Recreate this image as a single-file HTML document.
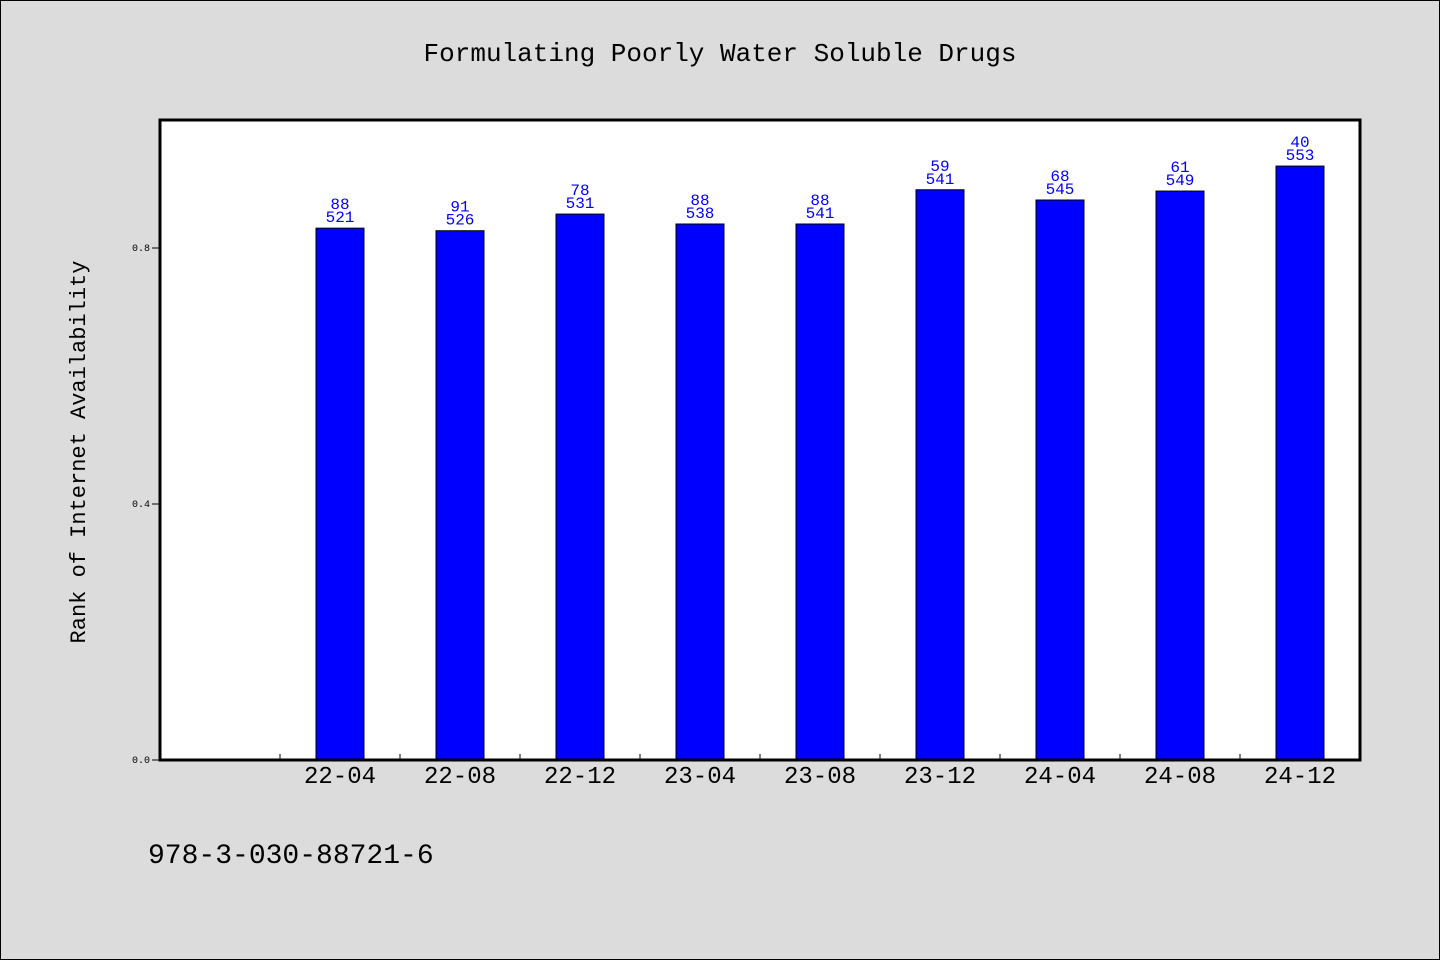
<!DOCTYPE html>
<html><head><meta charset="utf-8"><style>
body{margin:0;background:#dcdcdc;}
svg{display:block;font-family:"WenQuanYi Zen Hei","Liberation Mono",monospace;}
</style></head><body>
<svg id="c" width="1440" height="960">
<rect x="0.5" y="0.5" width="1439" height="959" fill="#dcdcdc" stroke="#000"/>
<text x="720" y="61" text-anchor="middle" font-size="26">Formulating Poorly Water Soluble Drugs</text>
<rect x="160" y="120" width="1200" height="640" fill="#fff"/>
<g id="bars"></g>
<rect x="160" y="120" width="1200" height="640" fill="none" stroke="#000" stroke-width="3"/>
<text transform="translate(85,452) rotate(-90)" text-anchor="middle" font-size="22">Rank of Internet Availability</text>
<text x="148" y="863" font-size="28">978-3-030-88721-6</text>
</svg>
<script>
const categories=["22-04","22-08","22-12","23-04","23-08","23-12","24-04","24-08","24-12"];
const values=[0.831,0.827,0.853,0.8375,0.8375,0.891,0.875,0.889,0.928];
const topLabels=["88","91","78","88","88","59","68","61","40"];
const bottomLabels=["521","526","531","538","541","541","545","549","553"];
const yTicks=[0.0,0.4,0.8];
const NS="http://www.w3.org/2000/svg";
const g=document.getElementById('bars');
const x0=160,slot=120,y0=760,ppu=640;
const xPos=i=>x0+slot*(i+1)+slot/2;
const yPos=v=>y0-v*ppu;
function mk(t,a,txt){const e=document.createElementNS(NS,t);for(const k in a)e.setAttribute(k,a[k]);if(txt!==undefined)e.textContent=txt;g.appendChild(e);return e;}
yTicks.forEach(v=>{
 const l=mk('line',{x1:152,x2:160,y1:yPos(v),y2:yPos(v),stroke:'#000'});
 
 
 const t=mk('text',{x:150,y:yPos(v)+3,'text-anchor':'end','font-size':10},v.toFixed(1));
 
 
});
for(let i=0;i<categories.length;i++){
 const tx=x0+slot*(i+1);
 const l=mk('line',{x1:tx,x2:tx,y1:754,y2:760,stroke:'#000'});
 
 
}
categories.forEach((c,i)=>{
 const cx=xPos(i),top=yPos(values[i]);
 const r=mk('rect',{x:cx-24,y:top,width:48,height:y0-top,fill:'#0000ff',stroke:'#000','stroke-width':1});
 
 
 const a=mk('text',{x:cx,y:top-19,'text-anchor':'middle','font-size':16,fill:'#0000ff'},topLabels[i]);
 
 
 const b=mk('text',{x:cx,y:top-6,'text-anchor':'middle','font-size':16,fill:'#0000ff'},bottomLabels[i]);
 
 
 const t=mk('text',{x:cx,y:783,'text-anchor':'middle','font-size':24},c);
 
 
});
</script>
</body></html>
